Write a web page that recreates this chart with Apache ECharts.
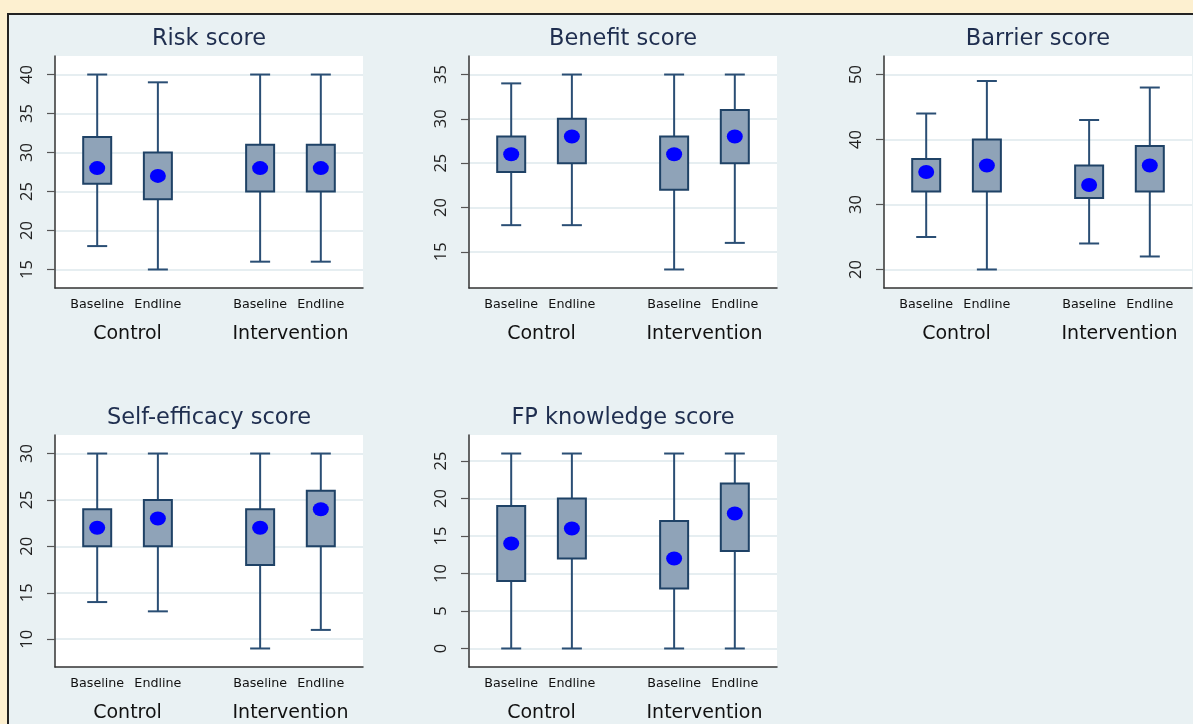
<!DOCTYPE html>
<html>
<head>
<meta charset="utf-8">
<script src="https://cdn.jsdelivr.net/npm/echarts@6/dist/echarts.min.js"></script>
<style>
  html, body { margin: 0; padding: 0; width: 1193px; height: 724px; overflow: hidden; background: #fdf0d0; }
  #frame { position: absolute; left: 7px; top: 13px; width: 1300px; height: 800px; border: 2px solid #222; background: #e9f1f3; }
  #chart { position: absolute; left: 0; top: 0; width: 1193px; height: 724px; }
</style>
</head>
<body>
<div id="frame"></div>
<div id="chart"></div>
<script>
// Panel titles and grouping
const scores = ['Risk score', 'Benefit score', 'Barrier score', 'Self-efficacy score', 'FP knowledge score'];
const groups = ['Control', 'Intervention'];
const times = ['Baseline', 'Endline'];

// Each row: Control-Baseline, Control-Endline, Intervention-Baseline, Intervention-Endline
const whiskerLow    = [[18, 15, 16, 16], [18, 18, 13, 16], [25, 20, 24, 22], [14, 13, 9, 11], [0, 0, 0, 0]];
const lowerQuartile = [[26, 24, 25, 25], [24, 25, 22, 25], [32, 32, 31, 32], [20, 20, 18, 20], [9, 12, 8, 13]];
const upperQuartile = [[32, 30, 31, 31], [28, 30, 28, 31], [37, 40, 36, 39], [24, 25, 24, 26], [19, 20, 17, 22]];
const whiskerHigh   = [[40, 39, 40, 40], [34, 35, 35, 35], [44, 49, 43, 48], [30, 30, 30, 30], [26, 26, 26, 26]];
const centre        = [[28, 27, 28, 28], [26, 28, 26, 28], [35, 36, 33, 36], [22, 23, 22, 24], [14, 16, 12, 18]];

// Y-axis tick labels per panel
const yTicks = [
  [15, 20, 25, 30, 35, 40],
  [15, 20, 25, 30, 35],
  [20, 30, 40, 50],
  [10, 15, 20, 25, 30],
  [0, 5, 10, 15, 20, 25]
];

// ---- layout ----
const colLeft = [55, 469, 884];
const rowTop = [56, 435];
const plotW = 308, plotH = 232;
const slotX = [0.137, 0.334, 0.666, 0.863];     // box centres along the x axis (0..1)
const groupX = [(slotX[0] + slotX[1]) / 2, (slotX[2] + slotX[3]) / 2];
const BOX_W = 28, CAP_W = 20;

const navy = '#2a4e74';
const boxFill = '#8fa3b8';
const wideFont = '"DejaVu Sans", sans-serif';
const numFont = '"Open Sans", Lato, sans-serif';

function slotName(v, list, names) {
  const i = list.findIndex(p => Math.abs(p - v) < 1e-6);
  return i >= 0 ? names[i] : '';
}

const grid = [], xAxis = [], yAxis = [], series = [], title = [];

scores.forEach((name, k) => {
  const left = colLeft[k % 3];
  const top = rowTop[Math.floor(k / 3)];
  grid.push({ left: left, top: top, width: plotW, height: plotH, show: true, backgroundColor: '#ffffff', borderWidth: 0 });

  title.push({
    text: name, left: left + plotW / 2, top: top - 28, textAlign: 'center', padding: 0,
    textStyle: { fontFamily: wideFont, fontSize: 22.5, fontWeight: 'normal', color: '#1f2e4f' }
  });

  // axis range: data and ticks, padded on both ends
  const lo = Math.min(Math.min(...whiskerLow[k]), yTicks[k][0]);
  const hi = Math.max(Math.max(...whiskerHigh[k]), yTicks[k][yTicks[k].length - 1]);
  const pad = 0.095 * (hi - lo);

  yAxis.push({
    type: 'value', gridIndex: k, min: lo - pad, max: hi + pad,
    axisLine: { show: true, lineStyle: { color: '#333', width: 1.5 } },
    axisTick: { show: true, length: 8, customValues: yTicks[k], lineStyle: { color: '#555', width: 1.2 } },
    axisLabel: { customValues: yTicks[k], rotate: 90, margin: 19, fontFamily: numFont, fontSize: 16.5, color: '#222' },
    splitLine: { show: true, lineStyle: { color: '#e6eef1', width: 2 } }
  });

  // box labels (Baseline / Endline)
  xAxis.push({
    type: 'value', gridIndex: k, min: 0, max: 1,
    axisLine: { show: true, onZero: false, lineStyle: { color: '#333', width: 1.5 } },
    axisTick: { show: false },
    splitLine: { show: false },
    axisLabel: {
      customValues: slotX, margin: 10, fontFamily: wideFont, fontSize: 12.7, color: '#111',
      formatter: v => slotName(v, slotX, [times[0], times[1], times[0], times[1]])
    }
  });
  // group labels (Control / Intervention)
  xAxis.push({
    type: 'value', gridIndex: k, min: 0, max: 1, position: 'bottom',
    axisLine: { show: false }, axisTick: { show: false }, splitLine: { show: false },
    axisLabel: {
      customValues: groupX, margin: 37, fontFamily: wideFont, fontSize: 19, color: '#111',
      formatter: v => slotName(v, groupX, groups)
    }
  });

  const boxData = slotX.map((x, i) => [x, whiskerLow[k][i], lowerQuartile[k][i], upperQuartile[k][i], whiskerHigh[k][i]]);
  series.push({
    type: 'custom', xAxisIndex: 2 * k, yAxisIndex: k, data: boxData, z: 2,
    renderItem: (params, api) => {
      const x = api.value(0);
      const pLo = api.coord([x, api.value(1)]);
      const pQ1 = api.coord([x, api.value(2)]);
      const pQ3 = api.coord([x, api.value(3)]);
      const pHi = api.coord([x, api.value(4)]);
      const cx = pLo[0];
      const line = (x1, y1, x2, y2) => ({
        type: 'line', shape: { x1, y1, x2, y2 }, style: { stroke: navy, lineWidth: 2 }
      });
      return {
        type: 'group',
        children: [
          line(cx, pHi[1], cx, pQ3[1]),
          line(cx, pQ1[1], cx, pLo[1]),
          line(cx - CAP_W / 2, pHi[1], cx + CAP_W / 2, pHi[1]),
          line(cx - CAP_W / 2, pLo[1], cx + CAP_W / 2, pLo[1]),
          {
            type: 'rect',
            shape: { x: cx - BOX_W / 2, y: pQ3[1], width: BOX_W, height: pQ1[1] - pQ3[1] },
            style: { fill: boxFill, stroke: '#1f4266', lineWidth: 2 }
          }
        ]
      };
    }
  });

  series.push({
    type: 'scatter', xAxisIndex: 2 * k, yAxisIndex: k, z: 3,
    symbol: 'circle', symbolSize: [16, 14],
    itemStyle: { color: '#0000ff', opacity: 1 },
    data: slotX.map((x, i) => [x, centre[k][i]])
  });
});

const chart = echarts.init(document.getElementById('chart'), null, { renderer: 'canvas' });
chart.setOption({
  animation: false,
  backgroundColor: 'transparent',
  title, grid, xAxis, yAxis, series
});
</script>
</body>
</html>
